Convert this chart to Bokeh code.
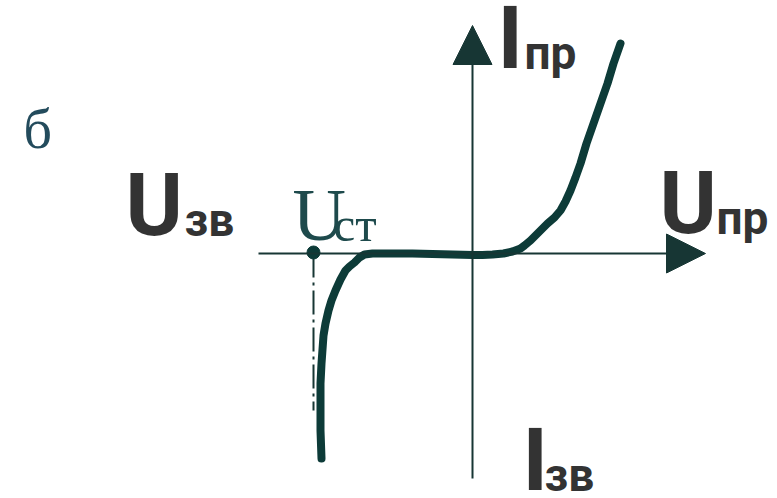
from bokeh.plotting import figure
from bokeh.models import Range1d, Arrow, NormalHead
from bokeh.core.properties import value
from bokeh.embed import file_html
from bokeh.resources import INLINE

# Characteristic of the Zener diode (arbitrary units, origin at the axes crossing)
u_curve = [148, 141, 135, 128, 121, 114, 108, 103, 98, 93, 88, 82, 75, 66, 58, 52, 48, 40, 31, 20, 10, 0,
           -20, -40, -60, -80, -100, -108, -113, -118, -123, -127, -132, -137, -141, -144, -147,
           -149, -150, -151, -152, -152, -152, -151]
i_curve = [210, 190, 170, 150, 130, 110, 90, 76, 63, 52, 43, 36, 30, 21, 13, 8, 5, 2, 0, -1, -1.5, -1.5,
           -1, -0.5, 0, 0, 0, -1, -4, -9, -13, -17, -26, -37, -47, -57, -70,
           -82, -96, -110, -130, -150, -177, -205]

u_st = -159          # stabilisation voltage marker
i_st_dash = -157     # end of the dash-dot guide

u_axis = (-214, 233)
i_axis = (-225, 228)

fig_label = "б"
labels_main = ["U", "I", "U", "I"]
labels_sub = ["зв", "пр", "пр", "зв"]

curve_color = "#0d3b38"
axis_color = "#173634"
text_gray = "#333333"
teal_text = "#1e4a4c"

BASE_FIX = 0.37  # empirical baseline correction (fraction of font size)


def fix(y, size):
    return [v + BASE_FIX * size for v in y]


p = figure(width=777, height=498, x_range=Range1d(-472, 305), y_range=Range1d(-245, 253),
           output_backend="svg", toolbar_location=None, min_border=0)
p.axis.visible = False
p.grid.visible = False
p.outline_line_color = None
p.background_fill_color = "white"
p.border_fill_color = "white"

# axes with arrow heads
p.add_layout(Arrow(end=NormalHead(size=39, fill_color=axis_color, line_color=axis_color),
                   x_start=u_axis[0], y_start=0, x_end=u_axis[1], y_end=0,
                   line_color=axis_color, line_width=2))
p.add_layout(Arrow(end=NormalHead(size=39, fill_color=axis_color, line_color=axis_color),
                   x_start=0, y_start=i_axis[0], x_end=0, y_end=i_axis[1],
                   line_color=axis_color, line_width=2))

# dash-dot guide from U_ст
p.line([u_st, u_st], [0, i_st_dash], line_color=axis_color, line_width=2, line_dash="24 5 3 5")

# characteristic curve
p.line(u_curve, i_curve, line_color=curve_color, line_width=8, line_join="round", line_cap="round")

# U_ст point
p.scatter([u_st], [1], size=13, fill_color=curve_color, line_color=curve_color)

# figure letter
p.text(x=[-449], y=fix([104], 56), text=[fig_label], text_font=value("Liberation Serif"),
       text_font_size="56px", text_color="#234b5c", text_baseline="alphabetic")

# U_ст label (serif)
p.text(x=[-180], y=fix([11], 74), text=["U"], text_font=value("Liberation Serif"),
       text_font_size="74px", text_color=teal_text, text_baseline="alphabetic")
p.text(x=[-139], y=fix([11], 49), text=["ст"], text_font=value("Liberation Serif"),
       text_font_size="49px", text_color=teal_text, text_baseline="alphabetic")

# axis labels (sans)
main_x = [-347, 25, 187, 50]
main_y = [16, 183, 18, -239]
sub_x = [-288, 52, 244, 72]
sub_y = [16, 183, 18, -239]
p.text(x=main_x, y=fix(main_y, 87), text=labels_main, text_font=value("Roboto"),
       text_font_style="bold", text_font_size="87px", text_color=text_gray, text_baseline="alphabetic")
p.text(x=sub_x, y=fix(sub_y, 46), text=labels_sub, text_font=value("Roboto"), text_font_style="bold",
       text_font_size="46px", text_color=text_gray, text_baseline="alphabetic")

open("out.html", "w").write(file_html(p, INLINE))
